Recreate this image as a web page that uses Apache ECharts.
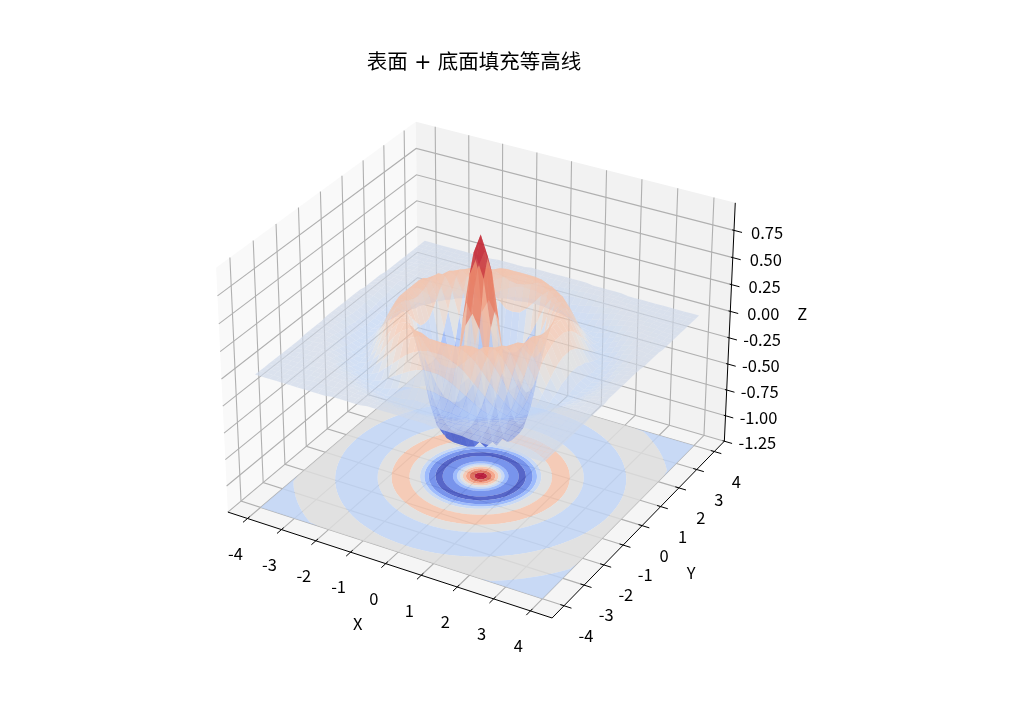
<!DOCTYPE html>
<html><head><meta charset="utf-8">
<style>html,body{margin:0;padding:0;background:#fff}#c{width:1009px;height:716px}</style>
<script src="https://cdn.jsdelivr.net/npm/echarts@6/dist/echarts.min.js"></script>
</head><body><div id="c"></div>
<script>
// ---- values ----
const titleText = '表面 + 底面填充等高线';
const xTicks = [-4,-3,-2,-1,0,1,2,3,4];
const yTicks = [-4,-3,-2,-1,0,1,2,3,4];
const zTicks = [-1.25,-1,-0.75,-0.5,-0.25,0,0.25,0.5,0.75];
const xTickLabels = ['-4','-3','-2','-1','0','1','2','3','4'];
const yTickLabels = ['-4','-3','-2','-1','0','1','2','3','4'];
const zTickLabels = ['-1.25','-1.00','-0.75','-0.50','-0.25','0.00','0.25','0.50','0.75'];
// surface grid positions, by distance from the axis
const gridSteps = [0,.2,.4,.6,.8,1,1.2,1.4,1.6,1.8,2,2.2,2.4,2.6,2.8,3,3.2,3.4,3.6,3.8,4];
// surface heights for one quadrant; the others mirror it
const zQuadrant = [
[1,.82,.35,-.21,-.63,-.77,-.63,-.30,.05,.28,.35,.28,.14,.01,-.07,-.10,-.08,-.04,-.01,.01,.02],
[.82,.65,.22,-.29,-.66,-.77,-.60,-.28,.06,.29,.35,.28,.14,.01,-.07,-.10,-.08,-.04,-.01,.01,.02],
[.35,.22,-.12,-.49,-.73,-.75,-.53,-.20,.12,.31,.35,.26,.12,-.01,-.08,-.09,-.07,-.04,0,.01,.02],
[-.21,-.29,-.49,-.69,-.77,-.67,-.41,-.08,.19,.34,.34,.23,.09,-.02,-.09,-.09,-.07,-.03,0,.01,.02],
[-.63,-.66,-.73,-.77,-.70,-.51,-.22,.06,.27,.35,.31,.19,.05,-.05,-.09,-.09,-.06,-.02,0,.01,.02],
[-.77,-.77,-.75,-.67,-.51,-.28,-.01,.21,.33,.34,.26,.13,.01,-.07,-.10,-.08,-.05,-.02,.01,.02,.01],
[-.63,-.60,-.53,-.41,-.22,-.01,.18,.31,.35,.30,.19,.07,-.03,-.09,-.09,-.07,-.04,-.01,.01,.02,.01],
[-.30,-.28,-.20,-.08,.06,.21,.31,.35,.32,.23,.11,.01,-.07,-.10,-.09,-.06,-.02,0,.01,.02,.01],
[.05,.06,.12,.19,.27,.33,.35,.32,.24,.14,.03,-.05,-.09,-.09,-.07,-.04,-.01,.01,.02,.01,.01],
[.28,.29,.31,.34,.35,.34,.30,.23,.14,.04,-.03,-.08,-.10,-.08,-.05,-.02,0,.01,.02,.01,.01],
[.35,.35,.35,.34,.31,.26,.19,.11,.03,-.03,-.08,-.10,-.09,-.06,-.03,-.01,.01,.02,.01,.01,0],
[.28,.28,.26,.23,.19,.13,.07,.01,-.05,-.08,-.10,-.09,-.07,-.04,-.01,.01,.01,.02,.01,.01,0],
[.14,.14,.12,.09,.05,.01,-.03,-.07,-.09,-.10,-.09,-.07,-.04,-.02,0,.01,.02,.01,.01,0,0],
[.01,.01,-.01,-.02,-.05,-.07,-.09,-.10,-.09,-.08,-.06,-.04,-.02,0,.01,.02,.01,.01,.01,0,0],
[-.07,-.07,-.08,-.09,-.09,-.10,-.09,-.09,-.07,-.05,-.03,-.01,0,.01,.02,.01,.01,.01,0,0,0],
[-.10,-.10,-.09,-.09,-.09,-.08,-.07,-.06,-.04,-.02,-.01,.01,.01,.02,.01,.01,.01,0,0,0,0],
[-.08,-.08,-.07,-.07,-.06,-.05,-.04,-.02,-.01,0,.01,.01,.02,.01,.01,.01,0,0,0,0,0],
[-.04,-.04,-.04,-.03,-.02,-.02,-.01,0,.01,.01,.02,.02,.01,.01,.01,0,0,0,0,0,0],
[-.01,-.01,0,0,0,.01,.01,.01,.02,.02,.01,.01,.01,.01,0,0,0,0,0,0,0],
[.01,.01,.01,.01,.01,.02,.02,.02,.01,.01,.01,.01,0,0,0,0,0,0,0,0,0],
[.02,.02,.02,.02,.02,.01,.01,.01,.01,.01,0,0,0,0,0,0,0,0,0,0,0]
];
// floor contour bands: inner radius, outer radius, contour band (0 lowest .. 8 highest)
const bandInner = [0,.16,.28,.37,.45,.52,.6,.7,.96,1.14,1.31,1.42,1.53,1.8,2.25,2.6,3.67,4.72];
const bandOuter = [.16,.28,.37,.45,.52,.6,.7,.96,1.14,1.31,1.42,1.53,1.8,2.25,2.6,3.67,4.72,7];
const bandLevel = [8,7,6,5,4,3,2,1,0,1,2,3,4,5,4,3,4,3];

// ---- view ----
const xyHalf = 4.583, zLow = -1.25, zHigh = 1, floorZ = -1.25, dataHalf = 4;
const colorLow = -0.77, colorHigh = 1;
const boxXY = 1.1905, boxZ = 0.8929, eyeDist = 10;
const elev = 30*Math.PI/180, azim = -60*Math.PI/180;
const W = [Math.cos(elev)*Math.cos(azim), Math.cos(elev)*Math.sin(azim), Math.sin(elev)];
const U = [-W[1]/Math.cos(elev), W[0]/Math.cos(elev), 0];
const Vv = [W[1]*U[2]-W[2]*U[1], W[2]*U[0]-W[0]*U[2], W[0]*U[1]-W[1]*U[0]];
function toBox(x,y,z){return [x/(2*xyHalf)*boxXY, y/(2*xyHalf)*boxXY, (z-(zLow+zHigh)/2)/(zHigh-zLow)*boxZ];}
function dot(a,b){return a[0]*b[0]+a[1]*b[1]+a[2]*b[2];}
function project(x,y,z){const q=toBox(x,y,z);const d=eyeDist-dot(W,q);return [dot(U,q)/d,dot(Vv,q)/d];}
function depth(x,y,z){return dot(W,toBox(x,y,z));}

// coolwarm
const cwStops=[[59,76,192],[98,130,234],[141,176,254],[192,212,245],[221,221,221],[244,195,171],[244,153,121],[217,92,71],[180,4,38]];
function coolwarm(t){t=Math.max(0,Math.min(1,t))*8;const i=Math.min(7,Math.floor(t)),f=t-i,a=cwStops[i],b=cwStops[i+1];
 return 'rgb('+[0,1,2].map(k=>Math.round(a[k]+(b[k]-a[k])*f)).join(',')+')';}

// full surface mirrored from the quadrant
const gridVals=[],idxAbs=[];
for(let k=gridSteps.length-1;k>0;k--){gridVals.push(-gridSteps[k]);idxAbs.push(k);}
gridSteps.forEach((v,k)=>{gridVals.push(v);idxAbs.push(k);});
function zAt(i,j){return zQuadrant[idxAbs[j]][idxAbs[i]];}
const cells=[];
for(let i=0;i<gridVals.length-1;i++)for(let j=0;j<gridVals.length-1;j++){
  const c4=[zAt(i,j),zAt(i+1,j),zAt(i,j+1),zAt(i+1,j+1)];
  const m=(c4[0]+c4[1]+c4[2]+c4[3])/4;
  const d=depth((gridVals[i]+gridVals[i+1])/2,(gridVals[j]+gridVals[j+1])/2,m);
  const shade=m>0?(m+Math.max(...c4))/2:m;
  cells.push({i,j,m,d,shade});
}
cells.sort((a,b)=>a.d-b.d);

const fontFam='"Noto Sans CJK SC","Noto Sans",sans-serif';
const H=xyHalf;
const paneColors={left:'rgb(249,249,249)',back:'rgb(242,242,242)',floor:'rgb(245,245,245)'};
const panes=[
 {c:paneColors.left,p:[[-H,-H,zLow],[-H,H,zLow],[-H,H,zHigh],[-H,-H,zHigh]]},
 {c:paneColors.back,p:[[-H,H,zLow],[H,H,zLow],[H,H,zHigh],[-H,H,zHigh]]},
 {c:paneColors.floor,p:[[-H,-H,zLow],[H,-H,zLow],[H,H,zLow],[-H,H,zLow]]}
];
const gridLines=[];
xTicks.forEach(v=>gridLines.push([[v,-H,zLow],[v,H,zLow],[v,H,zHigh]]));
yTicks.forEach(v=>gridLines.push([[H,v,zLow],[-H,v,zLow],[-H,v,zHigh]]));
zTicks.forEach(v=>gridLines.push([[-H,-H,v],[-H,H,v],[H,H,v]]));
const axisLines=[[[-H,-H,zLow],[H,-H,zLow],[H,H,zLow],[H,H,zHigh]]];
xTicks.forEach(v=>axisLines.push([[v,-H-.2,zLow],[v,-H+.1,zLow]]));
yTicks.forEach(v=>axisLines.push([[H-.1,v,zLow],[H+.2,v,zLow]]));
zTicks.forEach(v=>axisLines.push([[H-.05,H,v],[H+.22,H,v]]));

const labels=[];
xTicks.forEach((v,k)=>labels.push({t:xTickLabels[k],a:[v,-H,zLow],dx:-12,dy:35}));
yTicks.forEach((v,k)=>labels.push({t:yTickLabels[k],a:[H,v,zLow],dx:22,dy:30}));
zTicks.forEach((v,k)=>labels.push({t:zTickLabels[k],a:[H,H,v],dx:33,dy:2}));
labels.push({t:'X',a:[0,-H,zLow],dx:-28,dy:60});
labels.push({t:'Y',a:[H,0,zLow],dx:49,dy:47});
labels.push({t:'Z',a:[H,H,-.125+.12],dx:72,dy:2});

function pts(api,list){return list.map(p=>api.coord(project(p[0],p[1],p[2])));}
function ring(r){const out=[];for(let a=0;a<=360;a+=3){const t=a*Math.PI/180,c=Math.cos(t),s=Math.sin(t);
  const rr=Math.min(r,dataHalf/Math.max(Math.abs(c),Math.abs(s)));out.push([rr*c,rr*s,floorZ]);}return out;}

function idx(n){return Array.from({length:n},(_,i)=>i);}
function base(render,n){return {type:'custom',coordinateSystem:'cartesian2d',clip:false,silent:true,progressive:0,animation:false,renderItem:render,data:idx(n),encode:{x:0,y:0}};}

const series=[
 base((p,api)=>({type:'polygon',shape:{points:pts(api,panes[p.dataIndex].p)},style:{fill:panes[p.dataIndex].c}}),panes.length),
 base((p,api)=>({type:'polyline',shape:{points:pts(api,gridLines[p.dataIndex])},style:{fill:null,stroke:'#b0b0b0',lineWidth:1.1}}),gridLines.length),
 base((p,api)=>({type:'polyline',shape:{points:pts(api,axisLines[p.dataIndex])},style:{fill:null,stroke:'#000',lineWidth:1}}),axisLines.length),
 base((p,api)=>{const k=p.dataIndex;const o=ring(bandOuter[k]);const all=bandInner[k]>0?o.concat(ring(bandInner[k]).reverse()):o;
   return {type:'polygon',shape:{points:pts(api,all)},style:{fill:coolwarm(bandLevel[k]/8),opacity:.85}};},bandLevel.length),
 base((p,api)=>{const c=cells[p.dataIndex];const i=c.i,j=c.j;
   const P=[[gridVals[i],gridVals[j],zAt(i,j)],[gridVals[i+1],gridVals[j],zAt(i+1,j)],[gridVals[i+1],gridVals[j+1],zAt(i+1,j+1)],[gridVals[i],gridVals[j+1],zAt(i,j+1)]];
   return {type:'polygon',shape:{points:pts(api,P)},style:{fill:coolwarm((c.shade-colorLow)/(colorHigh-colorLow)),opacity:.7}};},cells.length),
 base((p,api)=>{const L=labels[p.dataIndex];const c=api.coord(project(L.a[0],L.a[1],L.a[2]));
   return {type:'text',x:c[0]+L.dx,y:c[1]+L.dy,style:{text:L.t,fill:'#000',font:'16.5px '+fontFam,align:'center',verticalAlign:'middle'}};},labels.length)
];
const chart=echarts.init(document.getElementById('c'),null,{renderer:'canvas'});
chart.setOption({
 animation:false,backgroundColor:'#fff',
 title:{text:titleText,left:469,top:48,textAlign:'center',textStyle:{fontFamily:'"DejaVu Sans","Noto Sans CJK SC",sans-serif',fontSize:20.5,fontWeight:'normal',color:'#000'}},
 grid:{left:0,top:0,width:1009,height:716},
 xAxis:{type:'value',show:false,min:-0.15407,max:0.16933},
 yAxis:{type:'value',show:false,min:-0.11474,max:0.11474},
 series
});
</script></body></html>
